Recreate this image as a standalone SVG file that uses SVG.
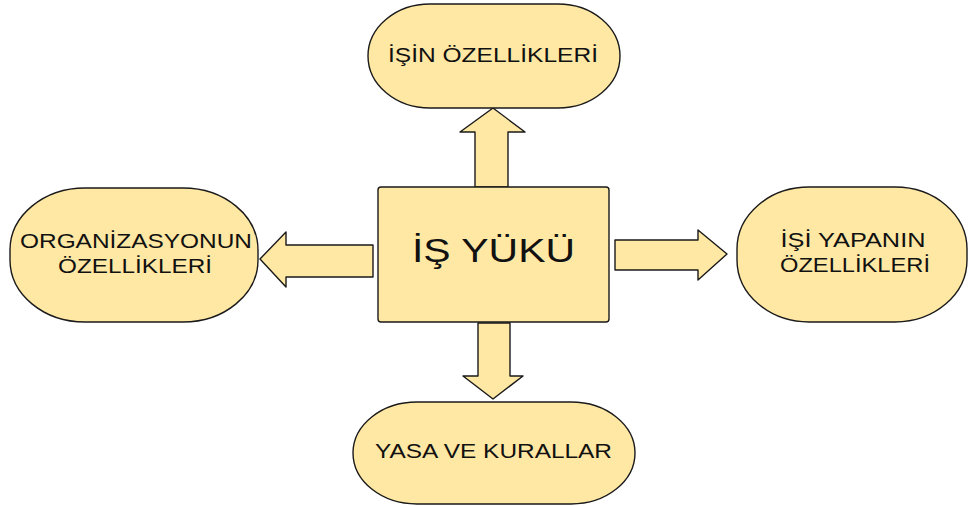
<svg xmlns="http://www.w3.org/2000/svg" width="968" height="506" viewBox="0 0 968 506">
  <style>
    .shape { fill: #FFE8A3; stroke: #1a1a1a; stroke-width: 1.4; stroke-linejoin: round; }
    .label { font-family: "Liberation Sans", Arial, sans-serif; font-size: 21px; fill: #111; text-anchor: middle; }
    .title { font-family: "Liberation Sans", Arial, sans-serif; font-size: 33px; fill: #111; text-anchor: middle; }
  </style>
  <rect width="968" height="506" fill="#ffffff"/>

  <!-- arrows from the central box -->
  <g id="connectors">
    <path class="shape" d="M475,187 L475,132 L460,132 L493,108 L525,132 L508,132 L508,187 Z"/>
    <path class="shape" d="M373,245 L286,245 L286,232 L260,259 L286,287 L286,277 L373,277 Z"/>
    <path class="shape" d="M615,240 L698,240 L698,230 L727,254 L698,280 L698,270 L615,270 Z"/>
    <path class="shape" d="M478,323 L478,376 L463,376 L493,399 L523,376 L510,376 L510,323 Z"/>
  </g>

  <g id="node-center">
    <rect class="shape" x="378" y="187" width="231" height="135" rx="3"/>
    <text class="title" x="493.5" y="262" textLength="163" lengthAdjust="spacingAndGlyphs">İŞ YÜKÜ</text>
  </g>

  <g id="node-top">
    <rect class="shape" x="368" y="4" width="252" height="104" rx="62" ry="52"/>
    <text class="label" x="493" y="62" textLength="210" lengthAdjust="spacingAndGlyphs">İŞİN ÖZELLİKLERİ</text>
  </g>

  <g id="node-left">
    <rect class="shape" x="10" y="188" width="248" height="134" rx="75" ry="62"/>
    <text class="label" x="136" y="248" textLength="232" lengthAdjust="spacingAndGlyphs">ORGANİZASYONUN</text>
    <text class="label" x="135" y="273" textLength="154" lengthAdjust="spacingAndGlyphs">ÖZELLİKLERİ</text>
  </g>

  <g id="node-right">
    <rect class="shape" x="737" y="187" width="230" height="135" rx="72" ry="62"/>
    <text class="label" x="853" y="247" textLength="145" lengthAdjust="spacingAndGlyphs">İŞİ YAPANIN</text>
    <text class="label" x="855" y="272" textLength="150" lengthAdjust="spacingAndGlyphs">ÖZELLİKLERİ</text>
  </g>

  <g id="node-bottom">
    <rect class="shape" x="353" y="402" width="282" height="102" rx="64" ry="51"/>
    <text class="label" x="493.5" y="458" textLength="237" lengthAdjust="spacingAndGlyphs">YASA VE KURALLAR</text>
  </g>
</svg>
